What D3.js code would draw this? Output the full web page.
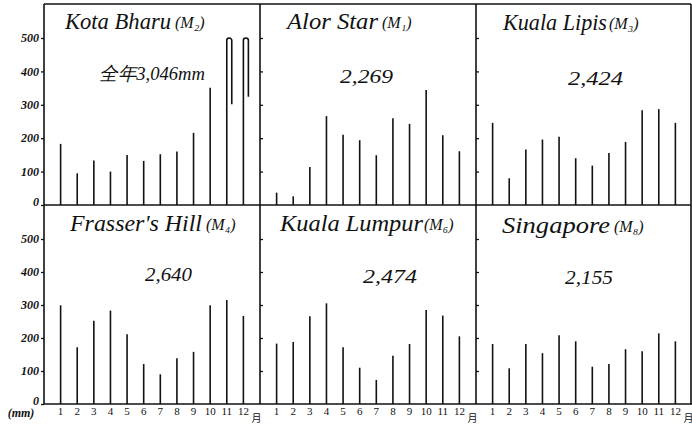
<!DOCTYPE html>
<html><head><meta charset="utf-8">
<script src="https://cdn.jsdelivr.net/npm/d3@7"></script>
<style>
html,body{margin:0;padding:0;background:#fff;}
svg{display:block;}
</style></head>
<body>
<svg id="c" width="692" height="428"></svg>
<script>
// ---------- data ----------
const months = [1,2,3,4,5,6,7,8,9,10,11,12];
const yTicks = [0,100,200,300,400,500];
const stationNames = ["Kota Bharu", "Alor Star", "Kuala Lipis", "Frasser's Hill", "Kuala Lumpur", "Singapore"];
const stationCodes = ["M₂", "M₁", "M₃", "M₄", "M₆", "M₈"];
const annualTotals = ["全年3,046mm", "2,269", "2,424", "2,640", "2,474", "2,155"];
const kotaBharu   = [183, 95, 133, 100, 150, 132, 152, 160, 216, 351, 698, 676];
const alorStar    = [37, 26, 114, 266, 210, 194, 149, 260, 243, 344, 209, 161];
const kualaLipis  = [246, 80, 166, 196, 204, 140, 118, 156, 189, 284, 287, 246];
const frasersHill = [299, 172, 252, 283, 211, 121, 90, 139, 158, 299, 315, 267];
const kualaLumpur = [183, 188, 266, 305, 172, 110, 73, 146, 182, 285, 268, 205];
const singapore   = [182, 108, 182, 154, 208, 190, 113, 121, 166, 160, 214, 190];
const series = [kotaBharu, alorStar, kualaLipis, frasersHill, kualaLumpur, singapore];
const capValue = 500;

// ---------- layout ----------
const svg = d3.select("#c");
const colLefts = [44, 260, 476];
const colW = 216;
const rows = [{top: 4, base: 205, top500: 38}, {top: 205, base: 404, top500: 239}];
const rightEdge = 691;
const serif = "'Liberation Serif', 'DejaVu Serif', serif";
const ink = "#111";

// frame lines
function hline(x1, x2, yv) {
  svg.append("line").attr("x1", x1).attr("x2", x2).attr("y1", yv).attr("y2", yv)
    .attr("stroke", ink).attr("stroke-width", 1.6);
}
hline(colLefts[0], rightEdge, 4);
hline(colLefts[0], rightEdge, 205);
hline(colLefts[0], 692, 404);
[colLefts[0], colLefts[1], colLefts[2], rightEdge].forEach(x => {
  svg.append("line").attr("x1", x).attr("x2", x).attr("y1", 4).attr("y2", 404)
    .attr("stroke", ink).attr("stroke-width", 1.6);
});

// [nameX, nameW, codeX, y]
const titleBox = [
  [65, 106, 175, 24],
  [287, 91, 382, 24],
  [503, 104, 609, 25],
  [70, 132, 206, 226],
  [280, 143, 424, 226],
  [502, 108, 614, 228]
];
// [x, width, y]
const totalBox = [
  [99, 106, 76],
  [340, 53, 79],
  [568, 55, 81],
  [145, 47, 277],
  [363, 54, 279],
  [565, 48, 280]
];

series.forEach((vals, i) => {
  const col = i % 3, row = Math.floor(i / 3);
  const left = colLefts[col];
  const R = rows[row];
  const x = d3.scaleLinear().domain([0, 13]).range([left, left + colW]);
  const y = d3.scaleLinear().domain([0, 500]).range([R.base, R.top500]);
  const g = svg.append("g");

  // y ticks
  if (col === 0) {
    const ax = d3.axisLeft(y).tickValues(yTicks).tickSize(3).tickPadding(2);
    const a = g.append("g").attr("transform", `translate(${left},0)`).call(ax);
    a.select(".domain").remove();
    a.selectAll("line").attr("stroke", ink).attr("stroke-width", 1.3);
    a.selectAll("text").attr("font-family", serif).attr("font-style", "italic")
      .attr("font-weight", "bold")
      .attr("font-size", 12).attr("fill", ink).attr("dy", "0.3em");
    a.selectAll("text").filter(d => d === 0).attr("dy", "0em");
  } else {
    const ax = d3.axisRight(y).tickValues(yTicks.filter(t => t > 0)).tickSize(3).tickFormat("");
    const a = g.append("g").attr("transform", `translate(${left},0)`).call(ax);
    a.select(".domain").remove();
    a.selectAll("line").attr("stroke", ink).attr("stroke-width", 1.3);
  }

  // bars
  months.forEach((m, k) => {
    const v = vals[k];
    const xm = x(m);
    if (v <= capValue) {
      g.append("line").attr("x1", xm).attr("x2", xm).attr("y1", y(0)).attr("y2", y(v))
        .attr("stroke", ink).attr("stroke-width", 1.6);
    } else {
      const w = 5;
      const p = d3.path();
      p.moveTo(xm, y(0));
      p.lineTo(xm, y(capValue) + w / 2);
      p.arc(xm + w / 2, y(capValue) + w / 2, w / 2, Math.PI, 0);
      p.lineTo(xm + w, y(2 * capValue - v));
      g.append("path").attr("d", p.toString()).attr("fill", "none")
        .attr("stroke", ink).attr("stroke-width", 1.6);
    }
  });

  // title
  const tb = titleBox[i];
  svg.append("text").attr("x", tb[0]).attr("y", tb[3])
    .attr("dominant-baseline", "middle")
    .attr("font-family", serif).attr("font-style", "italic").attr("fill", ink)
    .attr("font-size", 23)
    .attr("textLength", tb[1]).attr("lengthAdjust", "spacingAndGlyphs")
    .text(stationNames[i]);
  svg.append("text").attr("x", tb[2]).attr("y", tb[3])
    .attr("dominant-baseline", "middle")
    .attr("font-family", serif).attr("font-style", "italic").attr("fill", ink)
    .attr("font-size", 16)
    .text("(" + stationCodes[i] + ")");

  // annual total
  const ob = totalBox[i];
  svg.append("text").attr("x", ob[0]).attr("y", ob[2])
    .attr("dominant-baseline", "middle")
    .attr("font-family", serif).attr("font-style", "italic")
    .attr("font-size", 19).attr("fill", ink)
    .attr("textLength", ob[1]).attr("lengthAdjust", "spacingAndGlyphs")
    .text(annualTotals[i]);

  // month labels (bottom row)
  if (row === 1) {
    months.forEach(m => {
      svg.append("text").attr("x", x(m)).attr("y", 412)
        .attr("text-anchor", "middle").attr("dominant-baseline", "middle")
        .attr("font-family", serif).attr("font-size", 11).attr("fill", ink).text(m);
    });
    svg.append("text").attr("x", x(12) + 8).attr("y", 419)
      .attr("text-anchor", "start").attr("dominant-baseline", "middle")
      .attr("font-family", "'Noto Sans CJK JP', sans-serif").attr("font-size", 10).attr("fill", ink).text("月");
  }
});

// (mm) unit label
svg.append("text").attr("x", 21).attr("y", 414).attr("text-anchor", "middle")
  .attr("dominant-baseline", "middle").attr("font-family", serif).attr("font-style", "italic")
  .attr("font-weight", "bold")
  .attr("font-size", 12).attr("fill", ink).text("(mm)");
</script>
</body></html>
